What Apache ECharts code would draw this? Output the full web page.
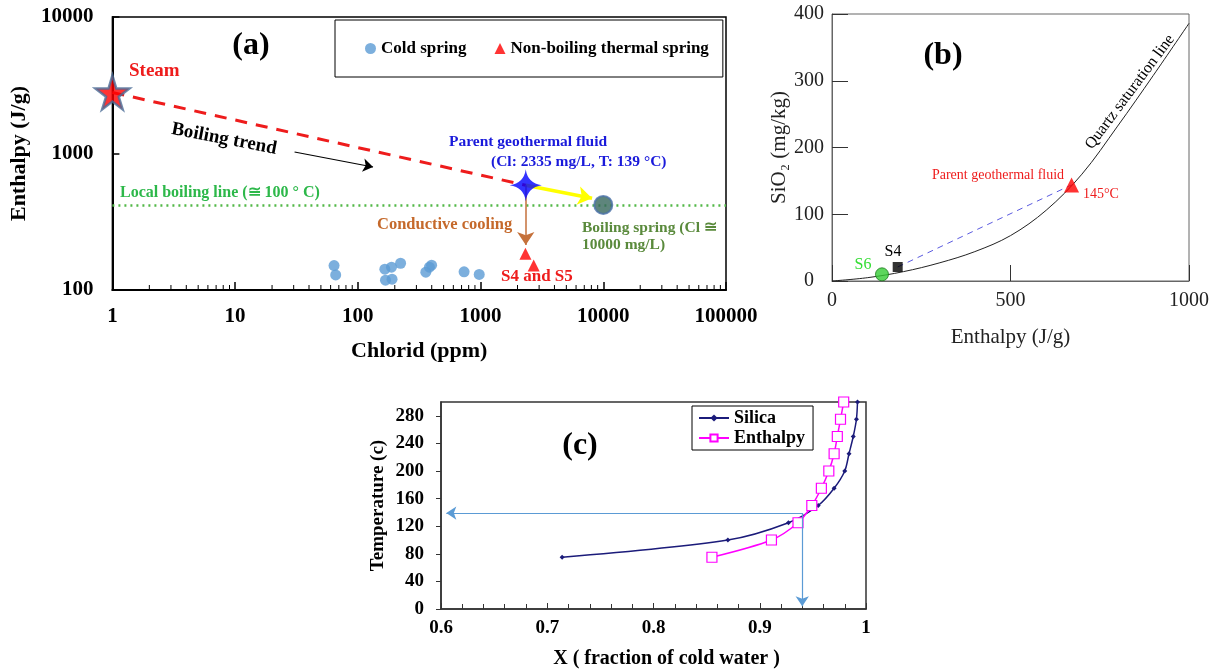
<!DOCTYPE html>
<html lang="en">
<head>
    <meta charset="UTF-8">
    <title>Geothermal mixing models</title>
    <script src="https://cdn.jsdelivr.net/npm/echarts@6/dist/echarts.min.js"></script>
    <style>
        html, body { margin: 0; padding: 0; background: #fff; }
        #main { width: 1220px; height: 671px; }
    </style>
</head>
<body>
<div id="main"></div>
<script>
    // (a) chloride vs enthalpy
    const coldCl = [64, 66, 166, 168, 188, 190, 223, 358, 383, 399, 734, 975];
    const coldH = [151, 129, 142, 118, 147, 120, 157, 135, 147, 152, 136, 130];
    const hotCl = [2322, 2710];
    const hotH = [184, 151];
    const steamPt = [1, 2800];
    const parentPt = [2335, 585];
    const boilingPt = [10000, 420];
    const boilingLineH = 420;

    // (b) silica vs enthalpy
    const quartzH = [0, 100, 200, 300, 400, 500, 600, 700, 800, 900, 1000];
    const quartzSi = [0, 5, 14, 27, 44, 68, 106, 160, 232, 308, 386];
    const s6Pt = [140, 10];
    const s4Pt = [184, 21];
    const parentB = [671, 144];

    // (c) mixing model
    const tempC = [75, 100, 125, 150, 175, 200, 225, 250, 275, 300];
    const silicaX = [0.714, 0.870, 0.927, 0.955, 0.970, 0.980, 0.984, 0.988, 0.991, 0.992];
    const enthalpyX = [0.855, 0.911, 0.936, 0.949, 0.958, 0.965, 0.970, 0.973, 0.976, 0.979];
    const mixPt = [0.94, 139];

    const SERIF = '"Liberation Serif", "DejaVu Serif", serif';
    const starPath = 'path://M50,0 L61,35 L98,35 L68,57 L79,91 L50,70 L21,91 L32,57 L2,35 L39,35 Z';
    const star4Path = 'path://M50,0 Q56,44 100,50 Q56,56 50,100 Q44,56 0,50 Q44,44 50,0 Z';

    // log minor ticks for the chloride axis
    let minorA = [];
    for (let d = 1; d < 100000; d *= 10) {
        for (let k = 2; k <= 9; k++) minorA.push([d * k, 100]);
    }

    function pairs(xs, ys) {
        return xs.map((x, i) => [x, ys[i]]);
    }

    function txt(x, y, text, font, fill, align, rot) {
        return {
            type: 'text', x: x, y: y, rotation: rot || 0, silent: true,
            style: {text: text, font: font, fill: fill, align: align || 'left', verticalAlign: 'middle'}
        };
    }

    let myChart = echarts.init(document.getElementById('main'));

    let option = {
        animation: false,
        backgroundColor: '#fff',
        textStyle: {fontFamily: SERIF},
        grid: [
            {left: 110, top: 17, width: 616, height: 273, show: true, borderColor: '#000', borderWidth: 1.5},
            {left: 832, top: 14, width: 357, height: 267, show: true, borderColor: '#666', borderWidth: 1},
            {left: 441, top: 402, width: 425, height: 207, show: true, borderColor: '#333', borderWidth: 1.5}
        ],
        legend: [
            {
                data: ['Cold spring', 'Non-boiling thermal spring'],
                left: 335, top: 20,
                padding: [20, 14, 20, 30],
                itemGap: 28, itemWidth: 11, itemHeight: 11,
                borderColor: '#000', borderWidth: 1,
                textStyle: {fontFamily: SERIF, fontWeight: 'bold', fontSize: 17, color: '#000'}
            },
            {
                data: ['Silica', 'Enthalpy'],
                left: 692, top: 406, orient: 'vertical',
                padding: [3, 8, 3, 6],
                itemGap: 2, itemWidth: 30, itemHeight: 9,
                borderColor: '#000', borderWidth: 1,
                textStyle: {fontFamily: SERIF, fontWeight: 'bold', fontSize: 18, color: '#000'}
            }
        ],
        xAxis: [
            {
                type: 'log', logBase: 10, min: 1, max: 100000, gridIndex: 0,
                axisLine: {lineStyle: {color: '#000', width: 2}},
                axisTick: {inside: true, length: 8, lineStyle: {color: '#000', width: 1.5}},
                splitLine: {show: false},
                axisLabel: {
                    margin: 16, color: '#000', fontSize: 21, fontWeight: 'bold', fontFamily: SERIF,
                    formatter: v => String(Math.round(v))
                },
                name: 'Chlorid (ppm)', nameLocation: 'middle', nameGap: 50,
                nameTextStyle: {fontSize: 22, fontWeight: 'bold', color: '#000', fontFamily: SERIF}
            },
            {
                type: 'value', min: 0, max: 1000, interval: 500, gridIndex: 1,
                axisLine: {lineStyle: {color: '#666', width: 1}},
                axisTick: {inside: true, length: 16, lineStyle: {color: '#333'}},
                splitLine: {show: false},
                axisLabel: {margin: 10, color: '#222', fontSize: 20, fontFamily: SERIF, formatter: v => String(v)},
                name: 'Enthalpy (J/g)', nameLocation: 'middle', nameGap: 46,
                nameTextStyle: {fontSize: 21, color: '#222', fontFamily: SERIF}
            },
            {
                type: 'value', min: 0.6, max: 1, interval: 0.1, gridIndex: 2,
                axisLine: {lineStyle: {color: '#333', width: 1.5}},
                axisTick: {inside: true, length: 6, lineStyle: {color: '#333'}},
                minorTick: {show: true, splitNumber: 5, length: 5, lineStyle: {color: '#333'}},
                splitLine: {show: false},
                axisLabel: {
                    margin: 10, color: '#000', fontSize: 19, fontWeight: 'bold', fontFamily: SERIF,
                    formatter: v => (Math.abs(v - 1) < 1e-6 ? '1' : v.toFixed(1))
                },
                name: 'X ( fraction of cold water )', nameLocation: 'middle', nameGap: 40,
                nameTextStyle: {fontSize: 20, fontWeight: 'bold', color: '#000', fontFamily: SERIF, padding: [0, 0, 0, 26]}
            }
        ],
        yAxis: [
            {
                type: 'log', logBase: 10, min: 100, max: 10000, gridIndex: 0,
                axisLine: {lineStyle: {color: '#000', width: 2}},
                axisTick: {inside: true, length: 7, lineStyle: {color: '#000', width: 1.5}},
                splitLine: {show: false},
                axisLabel: {
                    margin: 19, color: '#000', fontSize: 21, fontWeight: 'bold', fontFamily: SERIF,
                    formatter: v => String(Math.round(v))
                },
                name: 'Enthalpy (J/g)', nameLocation: 'middle', nameGap: 81,
                nameTextStyle: {fontSize: 22, fontWeight: 'bold', color: '#000', fontFamily: SERIF}
            },
            {
                type: 'value', min: 0, max: 400, interval: 100, gridIndex: 1,
                axisLine: {lineStyle: {color: '#666', width: 1}},
                axisTick: {inside: true, length: 16, lineStyle: {color: '#333'}},
                splitLine: {show: false},
                axisLabel: {margin: 23, align: 'center', color: '#222', fontSize: 20, fontFamily: SERIF},
                name: 'SiO\u2082 (mg/kg)', nameLocation: 'middle', nameGap: 40,
                nameTextStyle: {fontSize: 21, color: '#222', fontFamily: SERIF}
            },
            {
                type: 'value', min: 0, max: 300, interval: 40, gridIndex: 2,
                axisLine: {lineStyle: {color: '#333', width: 1.5}},
                axisTick: {inside: false, length: 5, lineStyle: {color: '#333'}},
                splitLine: {show: false},
                axisLabel: {margin: 17, color: '#000', fontSize: 19, fontWeight: 'bold', fontFamily: SERIF, showMaxLabel: false},
                name: 'Temperature (c)', nameLocation: 'middle', nameGap: 53,
                nameTextStyle: {fontSize: 19, fontWeight: 'bold', color: '#000', fontFamily: SERIF}
            }
        ],
        series: [
            // ---------- (a) ----------
            {
                name: 'minorA', type: 'custom', xAxisIndex: 0, yAxisIndex: 0, silent: true,
                data: minorA,
                renderItem: function (params, api) {
                    let p = api.coord([api.value(0), api.value(1)]);
                    return {
                        type: 'line',
                        shape: {x1: p[0], y1: p[1], x2: p[0], y2: p[1] - 5},
                        style: {stroke: '#000', lineWidth: 1}
                    };
                }
            },
            {
                name: 'Boiling trend', type: 'line', xAxisIndex: 0, yAxisIndex: 0, silent: true,
                data: [steamPt, parentPt], symbol: 'none', z: 3,
                lineStyle: {color: '#ee1c1c', width: 3, type: [12, 9]},
                markLine: {
                    silent: true, symbol: ['none', 'arrow'], label: {show: false},
                    data: [
                        [{coord: [1, boilingLineH], symbol: 'none', lineStyle: {color: '#53b848', width: 2.5, type: [2, 4]}},
                            {coord: [100000, boilingLineH], symbol: 'none'}],
                        [{coord: parentPt, symbol: 'none', lineStyle: {color: '#ffff00', width: 3.5, type: 'solid'}},
                            {coord: [8100, 470], symbol: 'arrow', symbolSize: 14}],
                        [{coord: parentPt, symbol: 'none', lineStyle: {color: '#c5713b', width: 1.5, type: 'solid'}},
                            {coord: [2335, 214], symbol: 'arrow', symbolSize: 13}],
                        [{coord: [30.5, 1026], symbol: 'none', lineStyle: {color: '#000', width: 1.2, type: 'solid'}},
                            {coord: [133, 796], symbol: 'arrow', symbolSize: 10}]
                    ]
                }
            },
            {
                name: 'Cold spring', type: 'scatter', xAxisIndex: 0, yAxisIndex: 0,
                data: pairs(coldCl, coldH), symbol: 'circle', symbolSize: 11,
                itemStyle: {color: '#5b9bd5'}
            },
            {
                name: 'Non-boiling thermal spring', type: 'scatter', xAxisIndex: 0, yAxisIndex: 0,
                data: pairs(hotCl, hotH), symbol: 'triangle', symbolSize: 12,
                itemStyle: {color: '#ff0000'}
            },
            {
                name: 'Steam', type: 'scatter', xAxisIndex: 0, yAxisIndex: 0, z: 5,
                data: [steamPt], symbol: starPath, symbolSize: 34,
                itemStyle: {color: '#ff0000', borderColor: '#4a6b96', borderWidth: 2.5}
            },
            {
                name: 'Parent fluid', type: 'scatter', xAxisIndex: 0, yAxisIndex: 0, z: 5,
                data: [parentPt], symbol: star4Path, symbolSize: 32,
                itemStyle: {color: '#0000ff'}
            },
            {
                name: 'Boiling spring', type: 'scatter', xAxisIndex: 0, yAxisIndex: 0, z: 5,
                data: [boilingPt], symbol: 'circle', symbolSize: 18,
                itemStyle: {color: '#36675b', borderColor: '#4a70a8', borderWidth: 2}
            },
            // ---------- (b) ----------
            {
                name: 'Quartz', type: 'line', xAxisIndex: 1, yAxisIndex: 1, silent: true,
                data: pairs(quartzH, quartzSi), smooth: 0.35, symbol: 'none',
                lineStyle: {color: '#222', width: 1}
            },
            {
                name: 'Mixing B', type: 'line', xAxisIndex: 1, yAxisIndex: 1, silent: true,
                data: [s4Pt, parentB], symbol: 'none',
                lineStyle: {color: '#5a5ae0', width: 1, type: [6, 5]}
            },
            {
                name: 'S6', type: 'scatter', xAxisIndex: 1, yAxisIndex: 1, z: 5,
                data: [s6Pt], symbol: 'circle', symbolSize: 13,
                itemStyle: {color: '#33cc33', borderColor: '#1f7a1f', borderWidth: 1}
            },
            {
                name: 'S4', type: 'scatter', xAxisIndex: 1, yAxisIndex: 1, z: 5,
                data: [s4Pt], symbol: 'rect', symbolSize: 10,
                itemStyle: {color: '#000'}
            },
            {
                name: 'Parent B', type: 'scatter', xAxisIndex: 1, yAxisIndex: 1, z: 5,
                data: [parentB], symbol: 'triangle', symbolSize: 15,
                itemStyle: {color: '#ff0000'}
            },
            // ---------- (c) ----------
            {
                name: 'Silica', type: 'line', xAxisIndex: 2, yAxisIndex: 2,
                data: pairs(silicaX, tempC), smooth: 0.3, symbol: 'diamond', symbolSize: 5,
                lineStyle: {color: '#1b1b7a', width: 1.5}, itemStyle: {color: '#1b1b7a'},
                markLine: {
                    silent: true, symbol: ['none', 'arrow'], symbolSize: 10, label: {show: false},
                    lineStyle: {color: '#5b9bd5', width: 1.2, type: 'solid'},
                    data: [
                        [{coord: mixPt}, {coord: [0.605, mixPt[1]]}],
                        [{coord: mixPt}, {coord: [mixPt[0], 4]}]
                    ]
                }
            },
            {
                name: 'Enthalpy', type: 'line', xAxisIndex: 2, yAxisIndex: 2,
                data: pairs(enthalpyX, tempC), smooth: 0.3, symbol: 'rect', symbolSize: 10,
                showAllSymbol: true,
                lineStyle: {color: '#ff00ff', width: 1.5},
                itemStyle: {color: '#fff', borderColor: '#ff00ff', borderWidth: 1.2}
            }
        ],
        graphic: [
            // (a)
            txt(251, 46, '(a)', 'bold 32px ' + SERIF, '#000', 'center'),
            txt(129, 71, 'Steam', 'bold 19px ' + SERIF, '#ee1c1c'),
            txt(224, 139, 'Boiling trend', 'bold 19px ' + SERIF, '#000', 'center', -0.19),
            txt(120, 193, 'Local boiling line (\u2245 100 \u00b0 C)', 'bold 16px ' + SERIF, '#2db84a'),
            txt(528, 142, 'Parent geothermal fluid', 'bold 15.5px ' + SERIF, '#1a1adb', 'center'),
            txt(491, 162, '(Cl: 2335 mg/L, T: 139 \u00b0C)', 'bold 15.5px ' + SERIF, '#1a1adb'),
            txt(377, 225, 'Conductive cooling', 'bold 16.5px ' + SERIF, '#c5692b'),
            txt(582, 228, 'Boiling spring (Cl \u2245', 'bold 15.5px ' + SERIF, '#5a8a3c'),
            txt(582, 245, '10000 mg/L)', 'bold 15.5px ' + SERIF, '#5a8a3c'),
            txt(501, 277, 'S4 and S5', 'bold 17px ' + SERIF, '#ee1c1c'),
            // (b)
            txt(943, 56, '(b)', 'bold 32px ' + SERIF, '#000', 'center'),
            txt(893, 252, 'S4', '16px ' + SERIF, '#000', 'center'),
            txt(863, 265, 'S6', '16px ' + SERIF, '#33dd33', 'center'),
            txt(998, 175, 'Parent geothermal fluid', '14px ' + SERIF, '#ee1c1c', 'center'),
            txt(1083, 194, '145\u00b0C', '14px ' + SERIF, '#ee1c1c'),
            txt(1130, 92, 'Quartz saturation line', '16px ' + SERIF, '#000', 'center', 0.93),
            // (c)
            txt(580, 446, '(c)', 'bold 32px ' + SERIF, '#000', 'center')
        ]
    };

    myChart.setOption(option);
</script>
</body>
</html>
